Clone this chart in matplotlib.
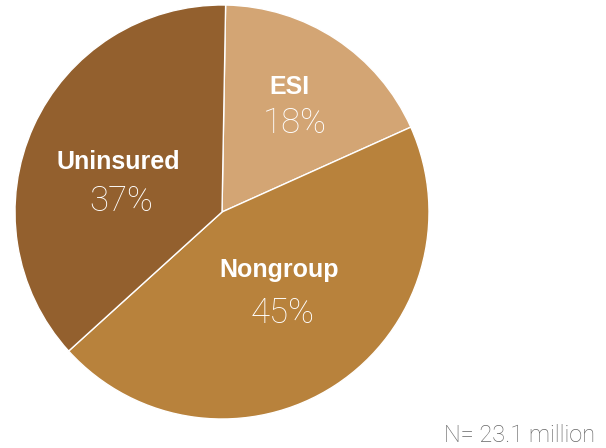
import matplotlib

matplotlib.use("Agg")
import matplotlib.pyplot as plt

# Coverage source shares, N = 23.1 million
labels = ["ESI", "Nongroup", "Uninsured"]
shares = [18, 45, 37]
colors = ["#D3A574", "#B8823C", "#93602E"]
note = "N= 23.1 million"

W, H = 606, 448
CX, CY, R = 222, 212, 207  # pie center / radius in pixels

fig = plt.figure(figsize=(W / 100, H / 100), dpi=100)
ax = fig.add_axes([(CX - R) / W, (H - CY - R) / H, 2 * R / W, 2 * R / H])
ax.pie(shares, colors=colors, startangle=89, counterclock=False, radius=1,
       wedgeprops=dict(edgecolor="white", linewidth=1))
ax.set_xlim(-1, 1)
ax.set_ylim(-1, 1)
ax.set_aspect("equal")
ax.axis("off")


def px(x, y):
    return (x - CX) / R, (CY - y) / R


# pixel centres of the name line and of the percent line
name_pos = {"ESI": (289, 87), "Nongroup": (279, 270), "Uninsured": (118, 162)}
pct_pos = {"ESI": (295, 123), "Nongroup": (283, 313), "Uninsured": (121, 201)}
for name, share in zip(labels, shares):
    ax.text(*px(*name_pos[name]), name, ha="center", va="center", color="white",
            fontsize=18, fontweight="bold", family="Liberation Sans")
    ax.text(*px(*pct_pos[name]), f"{share}%", ha="center", va="center",
            color="white", fontsize=25, fontweight="light", family="Roboto")

fig.text(595 / W, 1 - 435 / H, note, ha="right", va="center",
         color="#666666", fontsize=17, fontweight="light", family="Roboto")

fig.savefig("out.png", dpi=100)
